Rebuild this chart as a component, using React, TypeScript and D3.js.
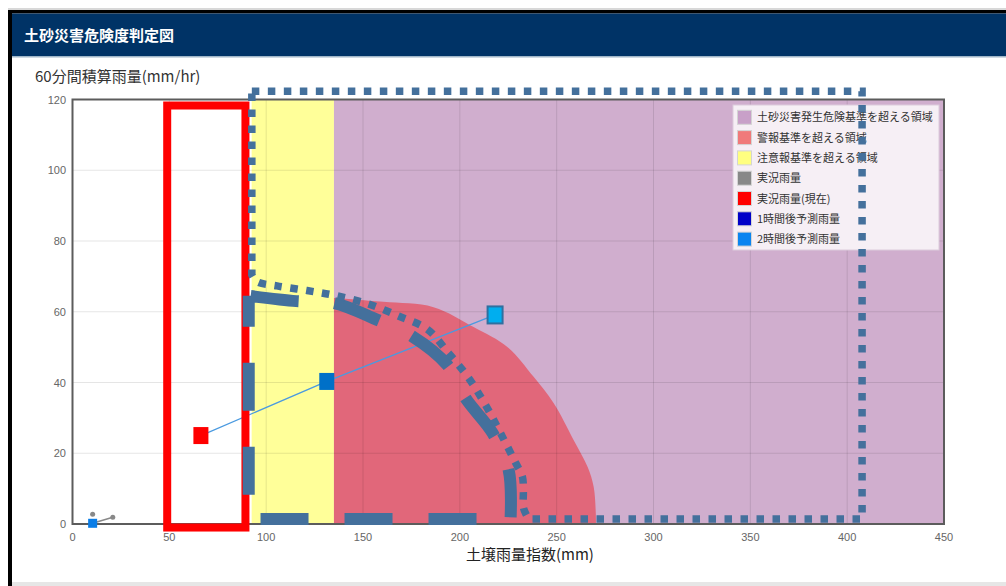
import React from 'react';
import * as d3 from 'd3';

// ---- data ----
const xTicks = [0, 50, 100, 150, 200, 250, 300, 350, 400, 450];
const yTicks = [0, 20, 40, 60, 80, 100, 120];

const legendLabels = [
  '土砂災害発生危険基準を超える領域',
  '警報基準を超える領域',
  '注意報基準を超える領域',
  '実況雨量',
  '実況雨量(現在)',
  '1時間後予測雨量',
  '2時間後予測雨量',
];
const legendColors = ['#c8a0c8', '#f07a7a', '#ffff80', '#888888', '#ff0000', '#0000c8', '#0a84f0'];

// regions (soil index x, rainfall y)
const cautionRange = [92.5, 135];
const dangerRange = [135, 450];
const warningX = [135, 160.5, 186.4, 207.1, 224.7, 238.1, 248.4, 258.8, 266.0, 269.1, 270.2, 270.3];
const warningY = [63.9, 62.8, 61.3, 55.7, 50.0, 41.6, 34.2, 23.7, 16.1, 10.5, 3.1, 0];

// rainfall series
const observedX = [10.4, 20.8];
const observedY = [0.2, 1.9];
const originForecastX = [10.4];
const originForecastY = [0.2];
const trackX = [66.3, 131.3, 218.2];
const trackY = [25.0, 40.3, 59.1];
const trackFill = ['#ff0000', '#0070c8', '#00aeef'];
const trackStroke = ['#ff0000', '#0070c8', '#2f6f9f'];

// annotations
const redBoxX = [48.9, 89.3];
const redBoxY = [-1.0, 118.3];
const outerBoxX = [92.6, 407.7];
const outerBoxY = [1.4, 122.3];
const outerCurveX = [92.6, 95.2, 105.6, 121.1, 136.6, 152.8, 168.3, 183.1, 194.2, 204.5, 213.3, 221.0, 228.8, 232.3, 232.8, 232.9, 235.5];
const outerCurveY = [70.4, 68.5, 67.3, 66.0, 64.5, 62.2, 58.8, 55.1, 48.3, 41.3, 33.6, 25.7, 17.3, 13.4, 9.1, 4.5, 1.4];
const innerCurveX = [91, 115.6, 134.7, 157.4, 174.5, 193.6, 202.9, 216.9, 225.2, 226.2];
const innerCurveY = [64.5, 63.0, 62.5, 57.7, 53.4, 44.9, 35.6, 25.7, 15.3, 1.4];
const innerBaseY = 1.4;

const W = 1006;
const H = 586;
const x = d3.scaleLinear().domain([0, 450]).range([72.5, 944]);
const y = d3.scaleLinear().domain([0, 120]).range([524, 99.5]);

const JP = '"Noto Sans CJK JP", "Noto Sans", sans-serif';
const SANS = '"Liberation Sans", Arial, sans-serif';
const DASH_BLUE = '#44709c';

export default function App() {
  const curve = d3
    .line<[number, number]>()
    .x((d) => x(d[0]))
    .y((d) => y(d[1]))
    .curve(d3.curveCatmullRom);

  const warnPts: [number, number][] = warningX.map((v, i) => [v, warningY[i]]);
  const warnD =
    `M${x(dangerRange[0])},${y(0)}` +
    curve(warnPts)!.replace(/^M/, 'L') +
    `L${x(warningX[warningX.length - 1])},${y(0)}Z`;

  const outerPts: [number, number][] = outerCurveX.map((v, i) => [v, outerCurveY[i]]).reverse() as [number, number][];
  const outerD =
    `M${x(outerBoxX[0])},${y(outerBoxY[1])}` +
    `L${x(outerBoxX[1])},${y(outerBoxY[1])}` +
    `L${x(outerBoxX[1])},${y(outerBoxY[0])}` +
    curve(outerPts)!.replace(/^M/, 'L') +
    `Z`;

  const innerPts: [number, number][] = innerCurveX.map((v, i) => [v, innerCurveY[i]]).reverse() as [number, number][];
  const innerD =
    `M${x(innerCurveX[0])},${y(innerCurveY[0])}` +
    `L${x(innerCurveX[0])},${y(innerBaseY)}` +
    `L${x(innerCurveX[innerCurveX.length - 1])},${y(innerBaseY)}` +
    curve(innerPts)!.replace(/^M/, 'L');

  const trackLine = d3
    .line<number>()
    .x((d) => x(trackX[d]))
    .y((d) => y(trackY[d]))(trackX.map((_, i) => i))!;
  const obsLine = d3
    .line<number>()
    .x((d) => x(observedX[d]))
    .y((d) => y(observedY[d]))(observedX.map((_, i) => i))!;

  const [x0, x1] = x.range();
  const [yb, yt] = y.range();

  return (
    <svg width={W} height={H} style={{ position: 'absolute', left: 0, top: 0, display: 'block' }}>
      <rect x={0} y={0} width={W} height={H} fill="#ffffff" />
      {/* frame */}
      <rect x={8} y={8} width={W - 8} height={2} fill="#d8d8d8" />
      <rect x={8} y={10} width={W - 8} height={3.5} fill="#000" />
      <rect x={8} y={10} width={4} height={H - 10} fill="#000" />
      <rect x={12} y={13.5} width={W - 12} height={42.5} fill="#003366" />
      <rect x={12} y={56} width={W - 12} height={1.5} fill="#9fb6c8" />
      <rect x={12} y={582} width={W - 12} height={4} fill="#e6e6e6" />
      <text x={24} y={40.5} fill="#fff" fontSize={15} fontWeight="bold" fontFamily={JP}>
        土砂災害危険度判定図
      </text>
      <text x={35} y={82} fill="#333" fontSize={15} fontFamily={JP}>
        60分間積算雨量(mm/hr)
      </text>
      <text x={466} y={560} fill="#222" fontSize={15} fontFamily={JP}>
        土壌雨量指数(mm)
      </text>

      {/* plot background & regions */}
      <rect x={x0} y={yt} width={x1 - x0} height={yb - yt} fill="#ffffff" />
      <rect x={x(cautionRange[0])} y={yt} width={x(cautionRange[1]) - x(cautionRange[0])} height={yb - yt} fill="#ffff99" />
      <rect x={x(dangerRange[0])} y={yt} width={x(dangerRange[1]) - x(dangerRange[0])} height={yb - yt} fill="#d0aece" />
      <path d={warnD} fill="#e1677a" />

      {/* grid */}
      {xTicks.slice(1, -1).map((t) => (
        <line key={'gx' + t} x1={x(t)} x2={x(t)} y1={yt} y2={yb} stroke="rgba(0,0,0,0.1)" strokeWidth={1} />
      ))}
      {yTicks.slice(1, -1).map((t) => (
        <line key={'gy' + t} x1={x0} x2={x1} y1={y(t)} y2={y(t)} stroke="rgba(0,0,0,0.1)" strokeWidth={1} />
      ))}
      <rect x={x0} y={yt} width={x1 - x0} height={yb - yt} fill="none" stroke="#5c5c5c" strokeWidth={2} />

      {/* tick labels */}
      {xTicks.map((t) => (
        <text key={'tx' + t} x={x(t)} y={541} textAnchor="middle" fontSize={11} fill="#666" fontFamily={SANS}>
          {t}
        </text>
      ))}
      {yTicks.map((t) => (
        <text key={'ty' + t} x={66} y={y(t) + 4} textAnchor="end" fontSize={11} fill="#666" fontFamily={SANS}>
          {t}
        </text>
      ))}

      {/* legend */}
      <rect x={733} y={105} width={206} height={145} fill="#f6eff5" stroke="#dccbdb" strokeWidth={1} />
      {legendLabels.map((lab, i) => {
        const cy = 117.3 + i * 20.3;
        return (
          <g key={'lg' + i}>
            <rect x={737.5} y={cy - 7} width={14} height={14} fill={legendColors[i]} stroke="#d4d4d4" strokeWidth={1} />
            <text x={757} y={cy + 4} fontSize={11} fill="#333" fontFamily={JP}>
              {lab}
            </text>
          </g>
        );
      })}

      {/* series */}
      <path d={obsLine} fill="none" stroke="#888" strokeWidth={1.5} />
      {observedX.map((v, i) => (
        <circle key={'ob' + i} cx={x(v)} cy={y(observedY[i]) - (i === 0 ? 9 : 0)} r={2.5} fill="#888" />
      ))}
      {originForecastX.map((v, i) => (
        <rect key={'of' + i} x={x(v) - 4.5} y={y(originForecastY[i]) - 4.5} width={9} height={9} fill="#0a7de6" />
      ))}
      <path d={trackLine} fill="none" stroke="#4a9ae0" strokeWidth={1.3} />
      {trackX.map((v, i) => (
        <rect
          key={'tr' + i}
          x={x(v) - 7.5}
          y={y(trackY[i]) - 8.5}
          width={15}
          height={17}
          fill={trackFill[i]}
          stroke={trackStroke[i]}
          strokeWidth={i === 2 ? 2 : 0}
        />
      ))}

      {/* annotations */}
      <rect
        x={x(redBoxX[0])}
        y={y(redBoxY[1])}
        width={x(redBoxX[1]) - x(redBoxX[0])}
        height={y(redBoxY[0]) - y(redBoxY[1])}
        fill="none"
        stroke="#ff0000"
        strokeWidth={8}
      />
      <path d={innerD} fill="none" stroke={DASH_BLUE} strokeWidth={12} strokeDasharray="48 36" strokeDashoffset={17} />
      <path d={outerD} fill="none" stroke={DASH_BLUE} strokeWidth={7.5} strokeDasharray="7.5 8.5" />
    </svg>
  );
}
